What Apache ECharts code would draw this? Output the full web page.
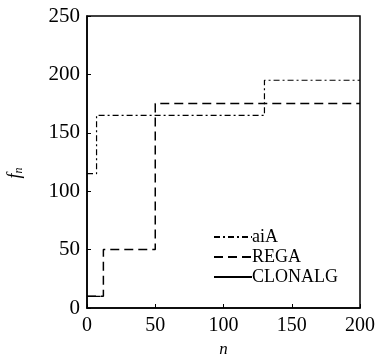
<!DOCTYPE html>
<html>
<head>
<meta charset="utf-8">
<script src="https://cdn.jsdelivr.net/npm/echarts@6/dist/echarts.min.js"></script>
<style>
html,body{margin:0;padding:0;background:#fff;}
#chart{width:381px;height:354px;}
</style>
</head>
<body>
<div id="chart"></div>
<script>
// step points [n, f_n]
let aiaData = [[0, 115], [7, 165], [130, 195], [200, 195]];
let regaData = [[0, 10], [12, 50], [50, 175], [200, 175]];
let clonalgData = [[0, 10], [10, 10]];
let xTicks = [0, 50, 100, 150, 200];
let yTicks = [0, 50, 100, 150, 200, 250];

let serif = '"Liberation Serif", "DejaVu Serif", serif';
let myChart = echarts.init(document.getElementById('chart'));

let option = {
    animation: false,
    backgroundColor: '#fff',
    grid: {
        left: 87,
        right: 21,
        top: 16,
        bottom: 46,
        outerBoundsMode: 'none',
        containLabel: false,
        show: true,
        borderColor: '#000',
        borderWidth: 1.5
    },
    legend: {
        orient: 'vertical',
        left: 208,
        top: 223,
        itemWidth: 38,
        itemHeight: 10,
        itemGap: 2,
        data: ['aiA', 'REGA', 'CLONALG'],
        itemStyle: {opacity: 0},
        textStyle: {
            fontFamily: serif,
            fontSize: 18,
            color: '#000',
            padding: [0, 0, 0, -5]
        }
    },
    xAxis: {
        type: 'value',
        min: 0,
        max: 200,
        interval: 50,
        name: 'n',
        nameLocation: 'middle',
        nameGap: 25,
        nameTextStyle: {
            fontFamily: serif,
            fontStyle: 'italic',
            fontSize: 17,
            color: '#000'
        },
        axisLine: {show: true, lineStyle: {color: '#000', width: 1.5}},
        axisTick: {show: true, inside: true, length: 4, lineStyle: {color: '#000'}},
        axisLabel: {
            color: '#000',
            fontFamily: serif,
            fontSize: 20,
            margin: 8,
            formatter: function (v) { return xTicks.indexOf(v) >= 0 ? String(v) : ''; }
        },
        splitLine: {show: false}
    },
    yAxis: {
        type: 'value',
        min: 0,
        max: 250,
        interval: 50,
        name: '{f|f}{s|n}',
        nameLocation: 'middle',
        nameGap: 62,
        nameRotate: 90,
        nameTextStyle: {
            color: '#000',
            padding: [0, 22, 0, 0],
            rich: {
                f: {fontFamily: serif, fontStyle: 'italic', fontSize: 18, color: '#000'},
                s: {fontFamily: serif, fontStyle: 'italic', fontSize: 12, color: '#000', padding: [8, 0, 0, 0]}
            }
        },
        axisLine: {show: true, lineStyle: {color: '#000', width: 1.5}},
        axisTick: {show: true, inside: true, length: 4, lineStyle: {color: '#000'}},
        axisLabel: {
            color: '#000',
            fontFamily: serif,
            fontSize: 21,
            margin: 7,
            formatter: function (v) { return yTicks.indexOf(v) >= 0 ? String(v) : ''; }
        },
        splitLine: {show: false}
    },
    series: [{
        name: 'aiA',
        type: 'line',
        step: 'end',
        symbol: 'none',
        data: aiaData,
        lineStyle: {color: '#000', width: 1.2, type: [6, 3, 2, 3]},
        itemStyle: {color: '#000'}
    }, {
        name: 'REGA',
        type: 'line',
        step: 'end',
        symbol: 'none',
        data: regaData,
        lineStyle: {color: '#000', width: 1.5, type: [9, 5]},
        itemStyle: {color: '#000'}
    }, {
        name: 'CLONALG',
        type: 'line',
        symbol: 'none',
        data: clonalgData,
        lineStyle: {color: '#000', width: 1.3, type: 'solid'},
        itemStyle: {color: '#000'}
    }]
};
myChart.setOption(option);
</script>
</body>
</html>
